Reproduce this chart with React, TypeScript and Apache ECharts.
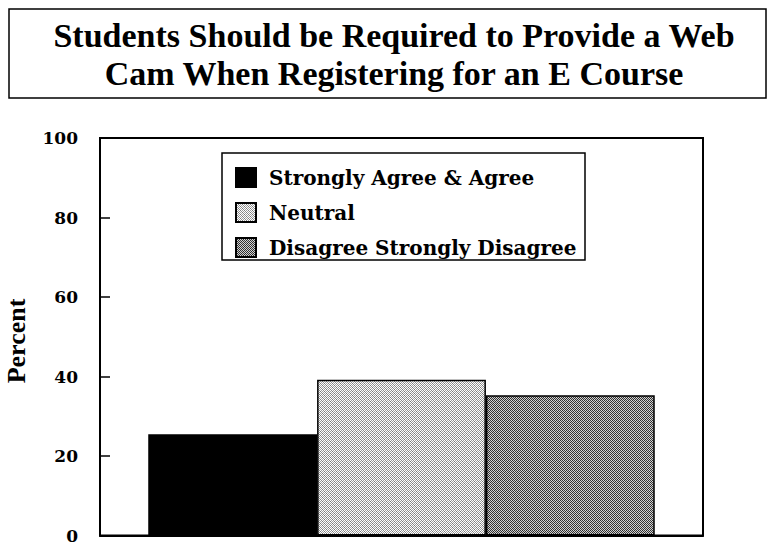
import React, { useEffect, useRef } from "react";
import * as echarts from "echarts";

// Survey result: share of responses per answer group (percent)
const categories = [""];
const seriesNames = ["Strongly Agree & Agree", "Neutral", "Disagree Strongly Disagree"];
const agreeValues = [25.5];
const neutralValues = [39.2];
const disagreeValues = [35.3];
const yTicks = [0, 20, 40, 60, 80, 100];

const titleLines = ["Students Should be Required to Provide a Web", "Cam When Registering for an E Course"];

// Small dithered tile used as a halftone fill
function ditherTile(levels: string[][]): HTMLCanvasElement {
  const c = document.createElement("canvas");
  c.height = levels.length;
  c.width = levels[0].length;
  const ctx = c.getContext("2d")!;
  levels.forEach((row, y) =>
    row.forEach((col, x) => {
      ctx.fillStyle = col;
      ctx.fillRect(x, y, 1, 1);
    })
  );
  return c;
}

export default function App() {
  const ref = useRef<HTMLDivElement>(null);

  useEffect(() => {
    if (!ref.current) return;
    const chart = echarts.init(ref.current, null, { renderer: "svg" });

    const W = "#ffffff";
    const lightTile = ditherTile([
      [W, "#8c8c8c", W, "#a0a0a0"],
      ["#a0a0a0", W, "#7a7a7a", W],
      [W, "#a0a0a0", W, "#8c8c8c"],
      ["#7a7a7a", W, "#a0a0a0", W],
    ]);
    const darkTile = ditherTile([
      ["#2a2a2a", "#c8c8c8", "#3a3a3a", "#d8d8d8"],
      ["#d8d8d8", "#3a3a3a", "#c8c8c8", "#2a2a2a"],
      ["#3a3a3a", "#d8d8d8", "#2a2a2a", "#c8c8c8"],
      ["#c8c8c8", "#2a2a2a", "#d8d8d8", "#3a3a3a"],
    ]);

    const serif = "'Liberation Serif', 'Times New Roman', serif";
    const wideSerif = "'DejaVu Serif', serif";

    const barBorder = { borderColor: "#000", borderWidth: 1.5 };

    chart.setOption({
      animation: false,
      backgroundColor: "#ffffff",
      grid: {
        left: 100,
        top: 138,
        right: 66,
        bottom: 8,
        show: true,
        borderColor: "#000",
        borderWidth: 2,
        containLabel: false,
      },
      legend: {
        orient: "vertical",
        left: 235,
        top: 167,
        z: 20,
        itemWidth: 20,
        itemHeight: 19,
        itemGap: 14,
        padding: 0,
        selectedMode: false,
        icon: "rect",
        data: seriesNames,
        textStyle: {
          fontFamily: wideSerif,
          fontWeight: "bold",
          fontSize: 20,
          color: "#000",
          lineHeight: 19,
          padding: [0, 0, 0, 8],
        },
      },
      xAxis: {
        type: "category",
        data: categories,
        axisLine: { show: true, lineStyle: { color: "#000", width: 2 } },
        axisTick: { show: true, inside: true, length: 10, alignWithLabel: true, lineStyle: { color: "#000", width: 2 } },
        axisLabel: { show: false },
      },
      yAxis: {
        type: "value",
        min: 0,
        max: 100,
        interval: 20,
        axisLine: { show: true, lineStyle: { color: "#000", width: 2 } },
        axisTick: { show: true, inside: true, length: 10, lineStyle: { color: "#000", width: 1.5 } },
        splitLine: { show: false },
        axisLabel: {
          margin: 22,
          fontFamily: wideSerif,
          fontWeight: "bold",
          fontSize: 17,
          color: "#000",
          formatter: (v: number) => (yTicks.includes(v) ? String(v) : ""),
        },
      },
      series: [
        {
          name: seriesNames[0],
          type: "bar",
          data: agreeValues,
          barGap: "0%",
          barCategoryGap: "16%",
          itemStyle: { color: "#000000", ...barBorder },
        },
        {
          name: seriesNames[1],
          type: "bar",
          data: neutralValues,
          barGap: "0%",
          barCategoryGap: "16%",
          itemStyle: { color: { image: lightTile, repeat: "repeat" }, ...barBorder },
        },
        {
          name: seriesNames[2],
          type: "bar",
          data: disagreeValues,
          barGap: "0%",
          barCategoryGap: "16%",
          itemStyle: { color: { image: darkTile, repeat: "repeat" }, ...barBorder },
        },
      ],
      graphic: [
        // title frame
        {
          type: "rect",
          shape: { x: 9, y: 9, width: 757, height: 89 },
          style: { fill: "#ffffff", stroke: "#000", lineWidth: 1.5 },
          z: 0,
        },
        {
          type: "text",
          x: 394,
          y: 54,
          style: {
            text: titleLines.join("\n"),
            fontFamily: serif,
            fontWeight: "bold",
            fontSize: 34,
            lineHeight: 38,
            fill: "#000",
            textAlign: "center",
            textVerticalAlign: "middle",
          },
          z: 1,
        },
        // legend frame, drawn beneath the legend items
        {
          type: "rect",
          shape: { x: 222, y: 153, width: 363, height: 107 },
          style: { fill: "#ffffff", stroke: "#000", lineWidth: 1.5 },
          z: 0,
        },
        // y-axis title
        {
          type: "text",
          x: 16,
          y: 341,
          rotation: Math.PI / 2,
          style: {
            text: "Percent",
            fontFamily: serif,
            fontWeight: "bold",
            fontSize: 26,
            fill: "#000",
            textAlign: "center",
            textVerticalAlign: "middle",
          },
        },
      ],
    });

    return () => chart.dispose();
  }, []);

  return <div ref={ref} style={{ width: 769, height: 544, position: "absolute", left: 0, top: 0 }} />;
}
